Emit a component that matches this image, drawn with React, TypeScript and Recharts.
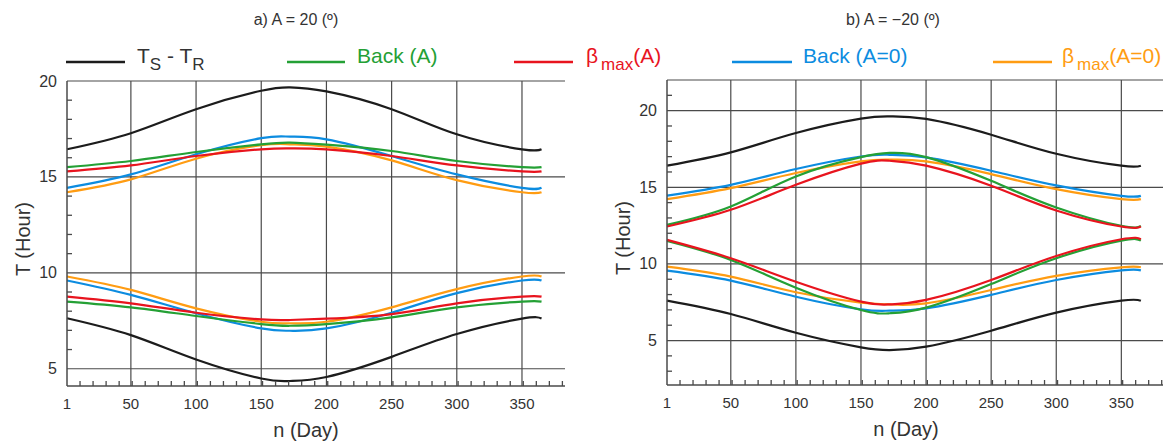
import { LineChart, Line, XAxis, YAxis, ReferenceLine } from "recharts";

// day of year sample points
const days = [1, 50, 100, 150, 172, 200, 250, 300, 350, 365];

// a) A = 20
const aTsUp = [16.44, 17.28, 18.53, 19.49, 19.67, 19.46, 18.53, 17.22, 16.44, 16.44];
const aTsLo = [7.63, 6.75, 5.48, 4.49, 4.36, 4.57, 5.62, 6.81, 7.61, 7.62];
const aBackUp = [15.51, 15.83, 16.3, 16.7, 16.79, 16.68, 16.35, 15.83, 15.51, 15.51];
const aBackLo = [8.5, 8.2, 7.75, 7.33, 7.24, 7.33, 7.68, 8.2, 8.5, 8.5];
const aBetaUp = [15.29, 15.6, 16.09, 16.44, 16.49, 16.44, 16.09, 15.6, 15.29, 15.29];
const aBetaLo = [8.76, 8.41, 7.92, 7.57, 7.54, 7.61, 7.85, 8.41, 8.76, 8.76];
const aBack0Up = [14.43, 15.13, 16.18, 17.02, 17.1, 16.96, 16.09, 15.13, 14.43, 14.43];
const aBack0Lo = [9.6, 8.85, 7.89, 7.1, 6.98, 7.1, 7.92, 8.94, 9.6, 9.6];
const aBeta0Up = [14.2, 14.87, 15.95, 16.65, 16.7, 16.58, 15.86, 14.83, 14.2, 14.2];
const aBeta0Lo = [9.81, 9.11, 8.15, 7.45, 7.37, 7.45, 8.2, 9.15, 9.81, 9.81];

// b) A = -20
const bTsUp = [16.41, 17.28, 18.54, 19.48, 19.63, 19.46, 18.43, 17.19, 16.41, 16.41];
const bTsLo = [7.6, 6.73, 5.51, 4.56, 4.38, 4.6, 5.64, 6.82, 7.6, 7.6];
const bBackUp = [12.55, 13.75, 15.71, 16.97, 17.24, 16.97, 15.42, 13.68, 12.48, 12.48];
const bBackLo = [11.5, 10.26, 8.45, 6.99, 6.78, 7.15, 8.69, 10.37, 11.52, 11.52];
const bBetaUp = [12.44, 13.53, 15.16, 16.54, 16.73, 16.41, 15.1, 13.49, 12.44, 12.44];
const bBetaLo = [11.57, 10.37, 8.84, 7.54, 7.36, 7.65, 8.95, 10.52, 11.61, 11.61];
const bBack0Up = [14.46, 15.16, 16.19, 17.01, 17.12, 16.95, 16.08, 15.12, 14.44, 14.44];
const bBack0Lo = [9.56, 8.91, 7.86, 7.04, 6.95, 7.1, 7.98, 8.95, 9.58, 9.58];
const bBeta0Up = [14.23, 14.95, 15.93, 16.69, 16.8, 16.69, 15.86, 14.88, 14.23, 14.23];
const bBeta0Lo = [9.82, 9.17, 8.15, 7.47, 7.36, 7.43, 8.3, 9.22, 9.78, 9.78];

// axis ticks
const xMajor = [1, 50, 100, 150, 200, 250, 300, 350];
const xMinor = [11, 21, 31, 41, 51, 61, 71, 81, 91, 101, 111, 121, 131, 141, 151, 161, 171, 181, 191, 201, 211, 221, 231, 241, 251, 261, 271, 281, 291, 301, 311, 321, 331, 341, 351, 361, 371, 381];
const yMajor = [5, 10, 15, 20];
const yMinorA = [6, 7, 8, 9, 11, 12, 13, 14, 16, 17, 18, 19];
const yMinorB = [3, 4, 6, 7, 8, 9, 11, 12, 13, 14, 16, 17, 18, 19, 21];

const BLACK = "#1c1c1c";
const GREEN = "#24a035";
const RED = "#e8141e";
const BLUE = "#0c8ce0";
const ORANGE = "#ff9c12";
const GRID = "#4a4a4a";
const TEXT = "#333";

const build = (cols: Record<string, number[]>) =>
  days.map((d, i) => {
    const row: Record<string, number> = { day: d };
    Object.keys(cols).forEach((k) => (row[k] = cols[k][i]));
    return row;
  });

const dataA = build({
  tsUp: aTsUp, tsLo: aTsLo, backUp: aBackUp, backLo: aBackLo, betaUp: aBetaUp,
  betaLo: aBetaLo, back0Up: aBack0Up, back0Lo: aBack0Lo, beta0Up: aBeta0Up, beta0Lo: aBeta0Lo,
});
const dataB = build({
  tsUp: bTsUp, tsLo: bTsLo, backUp: bBackUp, backLo: bBackLo, betaUp: bBetaUp,
  betaLo: bBetaLo, back0Up: bBack0Up, back0Lo: bBack0Lo, beta0Up: bBeta0Up, beta0Lo: bBeta0Lo,
});

const series = [
  { key: "back0Up", color: BLUE },
  { key: "back0Lo", color: BLUE },
  { key: "beta0Up", color: ORANGE },
  { key: "beta0Lo", color: ORANGE },
  { key: "backUp", color: GREEN },
  { key: "backLo", color: GREEN },
  { key: "betaUp", color: RED },
  { key: "betaLo", color: RED },
  { key: "tsUp", color: BLACK },
  { key: "tsLo", color: BLACK },
];

const XTick = (props: any) => {
  const { x, y, payload } = props;
  if (xMajor.includes(payload.value)) {
    return (
      <text x={x} y={y + 23} textAnchor="middle" fontSize={15} fill={TEXT}>
        {payload.value}
      </text>
    );
  }
  return <line x1={x} x2={x} y1={y - 5} y2={y} stroke={GRID} strokeWidth={1.3} />;
};

const YTick = (props: any) => {
  const { x, y, payload } = props;
  if (yMajor.includes(payload.value)) {
    return (
      <text x={x - 10} y={y + 5.5} textAnchor="end" fontSize={16} fill={TEXT}>
        {payload.value}
      </text>
    );
  }
  return <line x1={x} x2={x + 5} y1={y} y2={y} stroke={GRID} strokeWidth={1.3} />;
};

function Panel(props: {
  data: any[];
  width: number;
  xMax: number;
  yDomain: [number, number];
  yMinor: number[];
  margin: { top: number; right: number; bottom: number; left: number };
  extraTop?: number;
  labelDx: number;
}) {
  const { data, width, xMax, yDomain, yMinor, margin, extraTop, labelDx } = props;
  const yTicks = [...yMajor, ...yMinor].sort((p, q) => p - q);
  const xTicks = [...xMajor, ...xMinor].sort((p, q) => p - q);
  return (
    <LineChart width={width} height={445} data={data} margin={margin}>
      <XAxis
        dataKey="day"
        type="number"
        domain={[1, xMax]}
        ticks={xTicks}
        interval={0}
        tick={XTick}
        tickLine={false}
        tickSize={0}
        tickMargin={0}
        height={51}
        axisLine={{ stroke: GRID, strokeWidth: 1.5 }}
        label={{ value: "n (Day)", position: "insideBottom", offset: 0, dx: labelDx, fontSize: 20, fill: TEXT }}
      />
      <YAxis
        type="number"
        domain={yDomain}
        ticks={yTicks}
        interval={0}
        tick={YTick}
        tickLine={false}
        tickSize={0}
        tickMargin={0}
        width={40}
        axisLine={{ stroke: GRID, strokeWidth: 1.5 }}
        label={{ value: "T (Hour)", angle: -90, position: "center", dx: -24.5, dy: 5.5, fontSize: 20, fill: TEXT }}
      />
      {xMajor.slice(1).map((v) => (
        <ReferenceLine key={"x" + v} x={v} stroke={GRID} strokeWidth={1.2} />
      ))}
      {yMajor.map((v) => (
        <ReferenceLine key={"y" + v} y={v} stroke={GRID} strokeWidth={1.2} />
      ))}
      {extraTop !== undefined && <ReferenceLine y={extraTop} stroke={GRID} strokeWidth={1.2} />}
      {series.map((s) => (
        <Line
          key={s.key}
          dataKey={s.key}
          type="natural"
          stroke={s.color}
          strokeWidth={2.2}
          dot={false}
          isAnimationActive={false}
        />
      ))}
    </LineChart>
  );
}

export default function App() {
  return (
    <div
      style={{
        position: "absolute",
        left: 0,
        top: 0,
        width: 1171,
        height: 445,
        background: "#fff",
        fontFamily: "'Liberation Sans', Arial, sans-serif",
        overflow: "hidden",
      }}
    >
      <div style={{ position: "absolute", left: 0, top: 0 }}>
        <Panel
          data={dataA}
          width={600}
          xMax={383}
          yDomain={[4.1, 20]}
          yMinor={yMinorA}
          margin={{ top: 81, right: 35, bottom: 8, left: 27 }}
          labelDx={-10}
        />
      </div>
      <div style={{ position: "absolute", left: 600, top: 0 }}>
        <Panel
          data={dataB}
          width={571}
          xMax={382}
          yDomain={[2.1, 22]}
          yMinor={yMinorB}
          margin={{ top: 80, right: 8, bottom: 9, left: 27 }}
          extraTop={22}
          labelDx={-9}
        />
      </div>
      <svg
        width={1171}
        height={100}
        style={{ position: "absolute", left: 0, top: 0, pointerEvents: "none" }}
      >
        <text x={296} y={25} textAnchor="middle" fontSize={16} fill={TEXT}>
          a) A = 20 (º)
        </text>
        <text x={893} y={25} textAnchor="middle" fontSize={16} fill={TEXT}>
          b) A = −20 (º)
        </text>

        <line x1={66} x2={125} y1={62} y2={62} stroke={BLACK} strokeWidth={2.6} />
        <text x={137} y={63} fontSize={21} fill={TEXT}>
          T<tspan fontSize={17} dy={7}>S</tspan>
          <tspan dy={-7}> - T</tspan>
          <tspan fontSize={17} dy={7}>R</tspan>
        </text>

        <line x1={287} x2={345} y1={62} y2={62} stroke={GREEN} strokeWidth={2.6} />
        <text x={357} y={63} fontSize={21} fill={GREEN}>
          Back (A)
        </text>

        <line x1={514} x2={573} y1={62} y2={62} stroke={RED} strokeWidth={2.6} />
        <text x={586} y={63} fontSize={21} fill={RED}>
          β<tspan fontSize={17} dx={3} dy={7}>max</tspan>
          <tspan dy={-7}>(A)</tspan>
        </text>

        <line x1={732} x2={792} y1={62} y2={62} stroke={BLUE} strokeWidth={2.6} />
        <text x={803} y={63} fontSize={21} fill={BLUE}>
          Back (A=0)
        </text>

        <line x1={993} x2={1052} y1={62} y2={62} stroke={ORANGE} strokeWidth={2.6} />
        <text x={1062} y={63} fontSize={21} fill={ORANGE}>
          β<tspan fontSize={17} dx={3} dy={7}>max</tspan>
          <tspan dy={-7}>(A=0)</tspan>
        </text>
      </svg>
    </div>
  );
}
